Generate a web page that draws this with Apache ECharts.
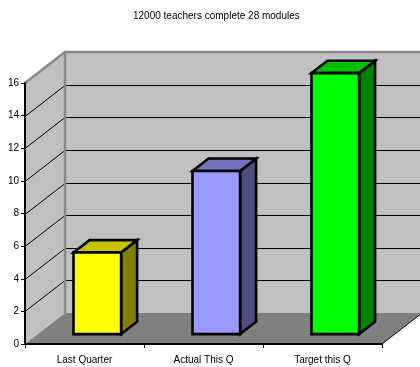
<!DOCTYPE html>
<html>
<head>
<meta charset="utf-8">
<script src="https://cdn.jsdelivr.net/npm/echarts@6/dist/echarts.min.js"></script>
<style>
  html, body { margin: 0; padding: 0; background: #fff; }
  #chart { width: 420px; height: 367px; }
</style>
</head>
<body>
<div id="chart"></div>
<script>
const titleText = '12000 teachers complete 28 modules';
const categories = ['Last Quarter', 'Actual This Q', 'Target this Q'];
const values = [5, 10, 16];
const yMin = 0, yMax = 16, yStep = 2;

const frontColors = ['#FFFF00', '#9999FF', '#00FF00'];
const topColors = ['#C4C400', '#7373C0', '#00C000'];
const sideColors = ['#808000', '#4D4D80', '#008000'];

// projection of the box depth (screen px) and bar placement inside it
const DEPTH = [40, -31];
const BAR_FRONT = 0.32;   // fraction of depth where the bar front face sits
const BAR_DEPTH = 0.4;    // fraction of depth taken by the bar
const BAR_WIDTH = 0.4;    // fraction of category band

const FONT = 'Liberation Sans, Arial, sans-serif';

function renderWalls(params, api) {
  const cs = params.coordSys;
  const x0 = cs.x, x1 = cs.x + cs.width;
  const yT = cs.y, yB = cs.y + cs.height;
  const dx = DEPTH[0], dy = DEPTH[1];
  const children = [];
  // back wall
  children.push({ type: 'polygon', shape: { points: [[x0 + dx, yT + dy], [x1 + dx, yT + dy], [x1 + dx, yB + dy], [x0 + dx, yB + dy]] },
    style: { fill: '#C0C0C0' } });
  // side wall
  children.push({ type: 'polygon', shape: { points: [[x0, yT], [x0 + dx, yT + dy], [x0 + dx, yB + dy], [x0, yB]] },
    style: { fill: '#C0C0C0' } });
  // floor
  children.push({ type: 'polygon', shape: { points: [[x0, yB], [x1, yB], [x1 + dx, yB + dy], [x0 + dx, yB + dy]] },
    style: { fill: '#808080' } });
  children.push({ type: 'line', shape: { x1: x1, y1: yB, x2: x1 + dx, y2: yB + dy },
    style: { stroke: '#000', lineWidth: 1 } });
  // gridlines on side and back walls
  for (let v = yMin + yStep; v < yMax; v += yStep) {
    const yv = Math.round(api.coord([0, v])[1]) + 0.5;
    const yb = Math.round(api.coord([0, v])[1] + dy) + 0.5;
    children.push({ type: 'line', shape: { x1: x0, y1: yv, x2: x0 + dx, y2: yb },
      style: { stroke: '#000', lineWidth: 1 } });
    children.push({ type: 'line', shape: { x1: x0 + dx, y1: yb, x2: x1 + dx, y2: yb },
      style: { stroke: '#000', lineWidth: 1 } });
  }
  // wall edges
  const edge = { stroke: '#888888', lineWidth: 2.5, fill: null };
  children.push({ type: 'polyline', shape: { points: [[x0, yT], [x0 + dx, yT + dy], [x1 + dx + 5, yT + dy]] }, style: edge });
  children.push({ type: 'line', shape: { x1: x0 + dx, y1: yT + dy, x2: x0 + dx, y2: yB + dy }, style: edge });
  return { type: 'group', children: children };
}

function renderBar(params, api) {
  const i = api.value(0);
  const v = api.value(1);
  const base = api.coord([i, 0]);
  const top = api.coord([i, v]);
  const bw = api.size([1, 0])[0] * BAR_WIDTH;
  const fx = DEPTH[0] * BAR_FRONT, fy = DEPTH[1] * BAR_FRONT;
  const bx = DEPTH[0] * BAR_DEPTH, by = DEPTH[1] * BAR_DEPTH;
  const l = base[0] - bw / 2 + fx, r = base[0] + bw / 2 + fx;
  const t = top[1] + fy, b = base[1] + fy;
  const stroke = { stroke: '#000', lineWidth: 2.6, lineJoin: 'miter' };
  return {
    type: 'group',
    children: [
      { type: 'polygon', shape: { points: [[r, t], [r + bx, t + by], [r + bx, b + by], [r, b]] },
        style: Object.assign({ fill: sideColors[i] }, stroke) },
      { type: 'polygon', shape: { points: [[l, t], [l + bx, t + by], [r + bx, t + by], [r, t]] },
        style: Object.assign({ fill: topColors[i] }, stroke) },
      { type: 'rect', shape: { x: l, y: t, width: r - l, height: b - t },
        style: Object.assign({ fill: frontColors[i] }, stroke) }
    ]
  };
}

const chart = echarts.init(document.getElementById('chart'), null, { renderer: 'canvas' });
chart.setOption({
  animation: false,
  backgroundColor: '#fff',
  title: {
    text: titleText,
    left: 128,
    top: 6,
    textStyle: { fontFamily: FONT, fontSize: 10, fontWeight: 'normal', color: '#000' }
  },
  grid: { left: 25, right: 38, top: 83, bottom: 23, containLabel: false },
  xAxis: {
    type: 'category',
    data: categories,
    z: 10,
    axisLine: { lineStyle: { color: '#000', width: 2 } },
    axisTick: { show: true, length: 4, lineStyle: { color: '#000', width: 1 } },
    axisLabel: { fontFamily: FONT, fontSize: 10, color: '#000', margin: 11 },
    splitLine: { show: false }
  },
  yAxis: {
    type: 'value',
    min: yMin,
    max: yMax,
    interval: yStep,
    z: 10,
    axisLine: { show: true, lineStyle: { color: '#000', width: 2 } },
    axisTick: { show: true, length: 4, lineStyle: { color: '#000', width: 1 } },
    axisLabel: { fontFamily: FONT, fontSize: 10, color: '#000', margin: 6 },
    splitLine: { show: false }
  },
  series: [
    {
      type: 'custom',
      z: 1,
      silent: true,
      renderItem: renderWalls,
      data: [[0, 0]]
    },
    {
      type: 'custom',
      z: 3,
      renderItem: renderBar,
      data: values.map((v, i) => [i, v])
    }
  ]
});
</script>
</body>
</html>
